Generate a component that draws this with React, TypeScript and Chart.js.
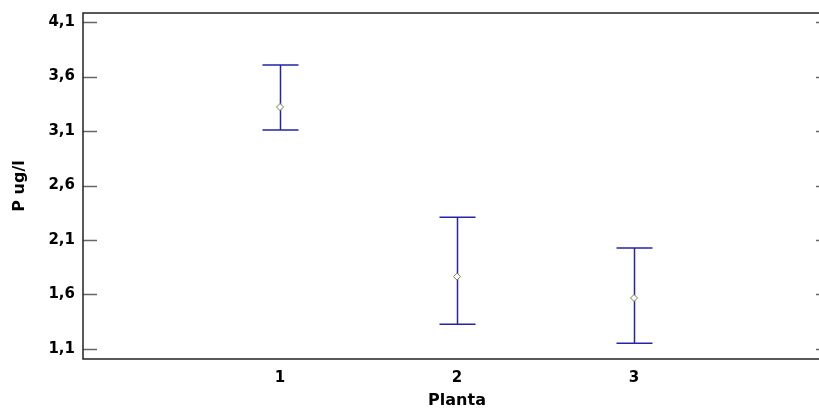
import React, { useEffect, useRef } from "react";
import { Chart, registerables } from "chart.js";

Chart.register(...registerables);

const categories = [1, 2, 3];
const means = [3.32, 1.764, 1.568];
const lowers = [3.109, 1.326, 1.152];
const uppers = [3.706, 2.308, 2.027];
const yTicks = [1.1, 1.6, 2.1, 2.6, 3.1, 3.6, 4.1];
const xTicks = [1, 2, 3];
const xTitle = "Planta";
const yTitle = "P ug/l";

const FONT = "'DejaVu Sans', Verdana, sans-serif";

const framePlugin = {
  id: "frame",
  beforeDatasetsDraw(chart: any) {
    const { ctx, scales } = chart;
    const x = scales.x;
    const y = scales.y;
    ctx.save();
    ctx.strokeStyle = "#2424a8";
    ctx.lineWidth = 1.5;
    categories.forEach((c, i) => {
      const px = Math.round(x.getPixelForValue(c)) + 0.5;
      const pt = y.getPixelForValue(uppers[i]);
      const pb = y.getPixelForValue(lowers[i]);
      ctx.beginPath();
      ctx.moveTo(px, pt);
      ctx.lineTo(px, pb);
      ctx.moveTo(px - 18, pt);
      ctx.lineTo(px + 18, pt);
      ctx.moveTo(px - 18, pb);
      ctx.lineTo(px + 18, pb);
      ctx.stroke();
    });
    ctx.restore();
  },
  afterDraw(chart: any) {
    const { ctx, chartArea, scales } = chart;
    const { left, right, top, bottom } = chartArea;
    const y = scales.y;
    ctx.save();
    ctx.strokeStyle = "#666";
    ctx.lineWidth = 1.5;
    yTicks.forEach((v) => {
      const py = Math.round(y.getPixelForValue(v)) + 0.5;
      ctx.beginPath();
      ctx.moveTo(left, py);
      ctx.lineTo(left + 14, py);
      ctx.moveTo(right - 3, py);
      ctx.lineTo(right, py);
      ctx.stroke();
    });
    ctx.strokeStyle = "#222";
    ctx.lineWidth = 1.5;
    ctx.beginPath();
    ctx.moveTo(right, top);
    ctx.lineTo(left, top);
    ctx.lineTo(left, bottom);
    ctx.lineTo(right, bottom);
    ctx.stroke();
    ctx.fillStyle = "#000";
    ctx.font = `bold 16px ${FONT}`;
    ctx.textAlign = "center";
    ctx.textBaseline = "middle";
    ctx.fillText(xTitle, scales.x.getPixelForValue(2), 401);
    ctx.translate(20, (top + bottom) / 2);
    ctx.rotate(-Math.PI / 2);
    ctx.fillText(yTitle, 0, 0);
    ctx.restore();
  },
};

export default function App() {
  const ref = useRef<HTMLCanvasElement>(null);
  useEffect(() => {
    const chart = new Chart(ref.current!, {
      type: "scatter",
      data: {
        datasets: [
          {
            data: categories.map((c, i) => ({ x: c, y: means[i] })),
            pointStyle: "rectRot",
            pointRadius: 3.5,
            borderColor: "#7c7c58",
            backgroundColor: "#ffffff",
            borderWidth: 1,
          },
        ],
      },
      options: {
        responsive: false,
        animation: false,
        layout: { autoPadding: false, padding: { top: 13, right: 0, left: 0, bottom: 0 } },
        plugins: { legend: { display: false }, tooltip: { enabled: false } },
        scales: {
          x: {
            type: "linear",
            min: -0.113,
            max: 4.045,
            grid: { display: false, drawTicks: false },
            border: { display: false },
            afterBuildTicks: (s: any) => {
              s.ticks = xTicks.map((v) => ({ value: v }));
            },
            afterFit: (s: any) => {
              s.height = 53;
              s.paddingLeft = 0;
              s.paddingRight = 0;
            },
            ticks: {
              padding: 10,
              color: "#000",
              font: { family: FONT, size: 15, weight: "bold" },
              maxRotation: 0,
              callback: (v: any) => String(v),
            },
          },
          y: {
            min: 1.008,
            max: 4.183,
            grid: { display: false, drawTicks: false },
            border: { display: false },
            afterBuildTicks: (s: any) => {
              s.ticks = yTicks.map((v) => ({ value: v }));
            },
            afterFit: (s: any) => {
              s.width = 83;
              s.paddingTop = 0;
              s.paddingBottom = 0;
            },
            ticks: {
              padding: 8,
              color: "#000",
              font: { family: FONT, size: 15, weight: "bold" },
              callback: (v: any) => Number(v).toFixed(1).replace(".", ","),
            },
          },
        },
      },
      plugins: [framePlugin],
    });
    return () => chart.destroy();
  }, []);
  return (
    <div style={{ position: "fixed", left: 0, top: 0, width: 819, height: 412, background: "#fff" }}>
      <canvas ref={ref} width={819} height={412} />
    </div>
  );
}
